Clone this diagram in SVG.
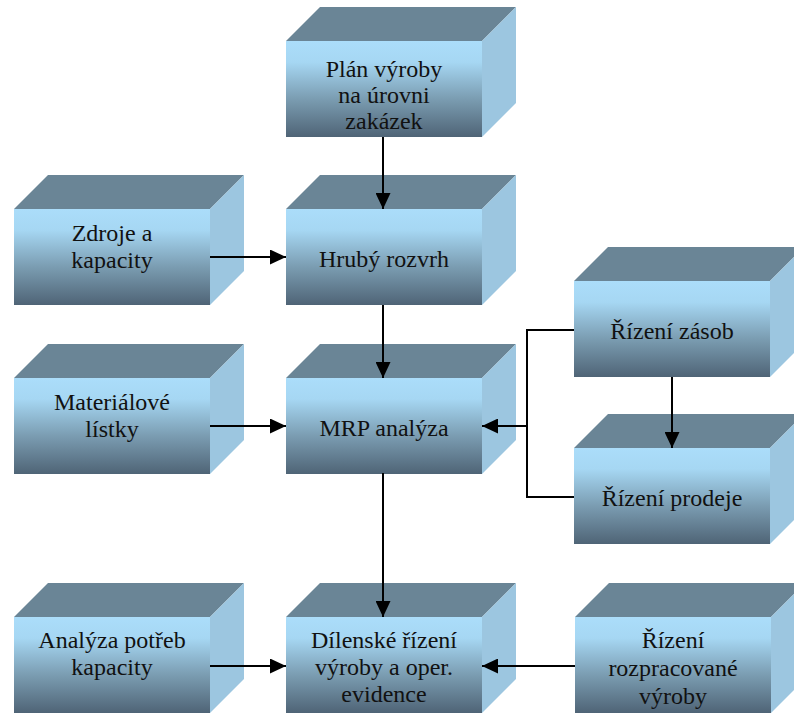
<svg xmlns="http://www.w3.org/2000/svg" width="794" height="713" viewBox="0 0 794 713">
<defs>
<linearGradient id="fg" x1="0" y1="0" x2="0" y2="1">
<stop offset="0" stop-color="#abddfa"/>
<stop offset="0.22" stop-color="#a6d7f3"/>
<stop offset="0.6" stop-color="#7b9db2"/>
<stop offset="1" stop-color="#4f6476"/>
</linearGradient>
<marker id="ah" markerUnits="userSpaceOnUse" markerWidth="17" markerHeight="15" refX="16" refY="7.5" orient="auto">
<path d="M0,0 L16,7.5 L0,15 Z" fill="#000"/>
</marker>
<g id="box">
<polygon points="0,0 34,-34 230,-34 196,0" fill="#6a8596"/>
<polygon points="196,0 230,-34 230,62 196,96" fill="#9cc6e0"/>
<rect x="0" y="0" width="196" height="96" fill="url(#fg)"/>
</g>
</defs>
<style>
text{font-family:"Liberation Serif","Times New Roman",serif;font-size:24px;fill:#111;text-anchor:middle}
.c{fill:none;stroke:#000;stroke-width:2}
</style>
<rect width="794" height="713" fill="#fff"/>
<g id="plan" transform="translate(286,41)"><use href="#box"/><text x="98" y="36">Plán výroby</text><text x="98" y="62">na úrovni</text><text x="98" y="88">zakázek</text></g>
<g id="zdroje" transform="translate(14,209)"><use href="#box"/><text x="98" y="32">Zdroje a</text><text x="98" y="59">kapacity</text></g>
<g id="hruby" transform="translate(286,209)"><use href="#box"/><text x="98" y="58">Hrubý rozvrh</text></g>
<g id="materialove" transform="translate(14,378)"><use href="#box"/><text x="98" y="32">Materiálové</text><text x="98" y="59">lístky</text></g>
<g id="mrp" transform="translate(286,378)"><use href="#box"/><text x="98" y="58">MRP analýza</text></g>
<g id="zasoby" transform="translate(574,281)"><use href="#box"/><text x="98" y="58">Řízení zásob</text></g>
<g id="prodej" transform="translate(574,448)"><use href="#box"/><text x="98" y="58">Řízení prodeje</text></g>
<g id="analyza" transform="translate(14,617)"><use href="#box"/><text x="98" y="31">Analýza potřeb</text><text x="98" y="58">kapacity</text></g>
<g id="dilenske" transform="translate(286,617)"><use href="#box"/><text x="98" y="31">Dílenské řízení</text><text x="98" y="58">výroby a oper.</text><text x="98" y="85">evidence</text></g>
<g id="rozprac" transform="translate(575,617)"><use href="#box"/><text x="98" y="31">Řízení</text><text x="98" y="59">rozpracované</text><text x="98" y="87">výroby</text></g>
<g id="connectors">
<path class="c" d="M383,137 V209" marker-end="url(#ah)"/>
<path class="c" d="M210,257 H286" marker-end="url(#ah)"/>
<path class="c" d="M383,305 V378" marker-end="url(#ah)"/>
<path class="c" d="M210,426 H286" marker-end="url(#ah)"/>
<path class="c" d="M574,330 H527 V497 H574"/>
<path class="c" d="M527,426 H482" marker-end="url(#ah)"/>
<path class="c" d="M672,377 V448" marker-end="url(#ah)"/>
<path class="c" d="M383,473 V617" marker-end="url(#ah)"/>
<path class="c" d="M210,666 H286" marker-end="url(#ah)"/>
<path class="c" d="M575,666 H482" marker-end="url(#ah)"/>
</g>
</svg>
